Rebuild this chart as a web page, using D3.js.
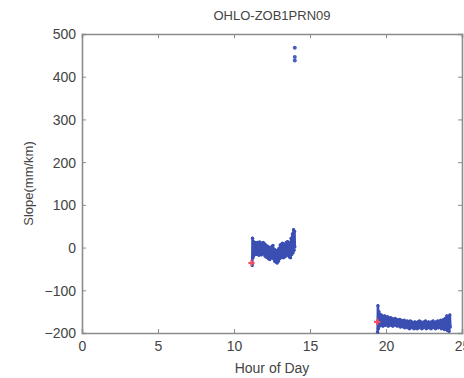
<!DOCTYPE html>
<html><head><meta charset="utf-8">
<script src="https://cdn.jsdelivr.net/npm/d3@7"></script>
<style>body{margin:0;background:#fff;overflow:hidden}svg{display:block;font-family:"Liberation Sans",Arial,sans-serif}</style>
</head><body><svg id="c" width="464" height="378"></svg>
<script>
const title = "OHLO-ZOB1PRN09";
const xLabel = "Hour of Day";
const yLabel = "Slope(mm/km)";
const xTicks = [0, 5, 10, 15, 20, 25];
const yTicks = [-200, -100, 0, 100, 200, 300, 400, 500];

// Session 1 (around 11-14 h)
const hours1 = [11.20,11.22,11.25,11.28,11.32,11.36,11.40,11.44,11.48,11.52,11.56,11.60,11.64,11.68,11.72,11.76,11.80,11.84,11.88,11.92,11.96,12.00,12.04,12.08,12.12,12.16,12.20,12.24,12.28,12.32,12.36,12.40,12.44,12.48,12.52,12.56,12.60,12.64,12.68,12.72,12.76,12.80,12.84,12.88,12.92,12.96,13.00,13.04,13.08,13.12,13.16,13.20,13.24,13.28,13.32,13.36,13.40,13.44,13.48,13.52,13.56,13.60,13.64,13.68,13.72,13.76,13.80,13.84,13.88,13.92,13.95,13.98,14.00];
const slope1 = [-42,22,-24,14,-18,12,-14,10,-16,12,-12,10,-18,13,-14,11,-17,8,-15,12,-13,9,-20,6,-22,4,-24,2,-26,0,-28,-2,-24,2,-22,5,-26,-4,-32,-6,-34,-8,-36,-6,-32,-2,-26,6,-24,8,-22,10,-24,8,-22,6,-20,12,-18,14,-16,10,-22,12,-24,22,-16,32,-12,42,-6,38,2];
// Session 2 (around 19.5-24 h)
const hours2 = [19.45,19.47,19.50,19.53,19.56,19.60,19.64,19.68,19.72,19.76,19.80,19.84,19.88,19.92,19.96,20.00,20.05,20.10,20.15,20.20,20.25,20.30,20.35,20.40,20.45,20.50,20.55,20.60,20.65,20.70,20.75,20.80,20.85,20.90,20.95,21.00,21.05,21.10,21.15,21.20,21.25,21.30,21.35,21.40,21.45,21.50,21.55,21.60,21.65,21.70,21.75,21.80,21.85,21.90,21.95,22.00,22.05,22.10,22.15,22.20,22.25,22.30,22.35,22.40,22.45,22.50,22.55,22.60,22.65,22.70,22.75,22.80,22.85,22.90,22.95,23.00,23.05,23.10,23.15,23.20,23.25,23.30,23.35,23.40,23.45,23.50,23.55,23.60,23.65,23.70,23.75,23.80,23.85,23.90,23.95,24.00,24.05,24.10,24.15,24.20,24.23];
const slope2 = [-198,-136,-190,-150,-184,-156,-182,-158,-180,-160,-184,-162,-178,-160,-182,-164,-180,-162,-184,-166,-180,-164,-182,-166,-184,-168,-180,-166,-182,-168,-184,-170,-182,-168,-186,-170,-184,-172,-186,-170,-188,-174,-186,-172,-188,-174,-190,-172,-186,-174,-188,-176,-190,-174,-188,-176,-190,-174,-188,-172,-186,-174,-190,-176,-188,-174,-186,-172,-190,-176,-188,-174,-186,-176,-190,-174,-188,-172,-186,-176,-190,-174,-188,-172,-188,-176,-186,-170,-190,-172,-186,-168,-192,-166,-190,-160,-194,-162,-196,-158,-186];
// Outliers near 14 h
const outHours = [14.0, 14.0, 14.0];
const outSlope = [468, 446, 438];
// Session start markers (red)
const startHours = [11.15, 19.42];
const startSlope = [-36, -174];

const svg = d3.select("#c");
const L = 82, R = 462, T = 34, B = 333;
const x = d3.scaleLinear().domain([0, 25]).range([L, R]);
const y = d3.scaleLinear().domain([-200, 500]).range([B, T]);
const axisCol = "#8c8c8c", textCol = "#444";

const gx = svg.append("g").attr("transform", `translate(0,${B})`)
  .call(d3.axisBottom(x).tickValues(xTicks).tickSize(-4).tickPadding(8).tickFormat(d3.format("d")));
const gy = svg.append("g").attr("transform", `translate(${L},0)`)
  .call(d3.axisLeft(y).tickValues(yTicks).tickSize(-4).tickPadding(6).tickFormat(d3.format("d")));
const gt = svg.append("g").attr("transform", `translate(0,${T})`)
  .call(d3.axisTop(x).tickValues(xTicks).tickSize(-4).tickFormat(""));
const gr = svg.append("g").attr("transform", `translate(${R},0)`)
  .call(d3.axisRight(y).tickValues(yTicks).tickSize(-4).tickFormat(""));
[gx, gy, gt, gr].forEach(g => {
  g.select(".domain").attr("stroke", axisCol).attr("stroke-width", 1.6);
  g.selectAll(".tick line").attr("stroke", axisCol).attr("stroke-width", 1);
  g.selectAll(".tick text").attr("fill", textCol).style("font-size", "14px")
   .style("font-family", '"Liberation Sans",Arial,sans-serif');
});
gy.selectAll(".tick text").attr("dy", "0.35em");

const blue = "#3b4fb2";
const line = d3.line().x(d => x(d[0])).y(d => y(d[1]));
const s1 = hours1.map((h, i) => [h, slope1[i]]);
const s2 = hours2.map((h, i) => [h, slope2[i]]);
[s1, s2].forEach(s => {
  svg.append("path").datum(s).attr("d", line).attr("fill", "none")
    .attr("stroke", blue).attr("stroke-width", 2.6).attr("stroke-linejoin", "round");
  svg.append("g").selectAll("circle").data(s).join("circle")
    .attr("cx", d => x(d[0])).attr("cy", d => y(d[1])).attr("r", 1.7).attr("fill", blue);
});
svg.append("g").selectAll("circle").data(outHours.map((h, i) => [h, outSlope[i]])).join("circle")
  .attr("cx", d => x(d[0])).attr("cy", d => y(d[1])).attr("r", 2).attr("fill", "#4a5cc0");

svg.append("g").selectAll("path").data(startHours.map((h, i) => [h, startSlope[i]])).join("path")
  .attr("d", d3.symbol(d3.symbolCross, 22))
  .attr("transform", d => `translate(${x(d[0])},${y(d[1])})`)
  .attr("fill", "#f05060");

svg.append("text").attr("x", (L + R) / 2).attr("y", 20).attr("text-anchor", "middle")
  .attr("fill", textCol).style("font-size", "13px").text(title);
svg.append("text").attr("x", (L + R) / 2).attr("y", 373).attr("text-anchor", "middle")
  .attr("fill", textCol).style("font-size", "14px").text(xLabel);
svg.append("text").attr("transform", `translate(33,${(T + B) / 2}) rotate(-90)`)
  .attr("text-anchor", "middle").attr("fill", textCol).style("font-size", "13px").text(yLabel);
</script></body></html>
